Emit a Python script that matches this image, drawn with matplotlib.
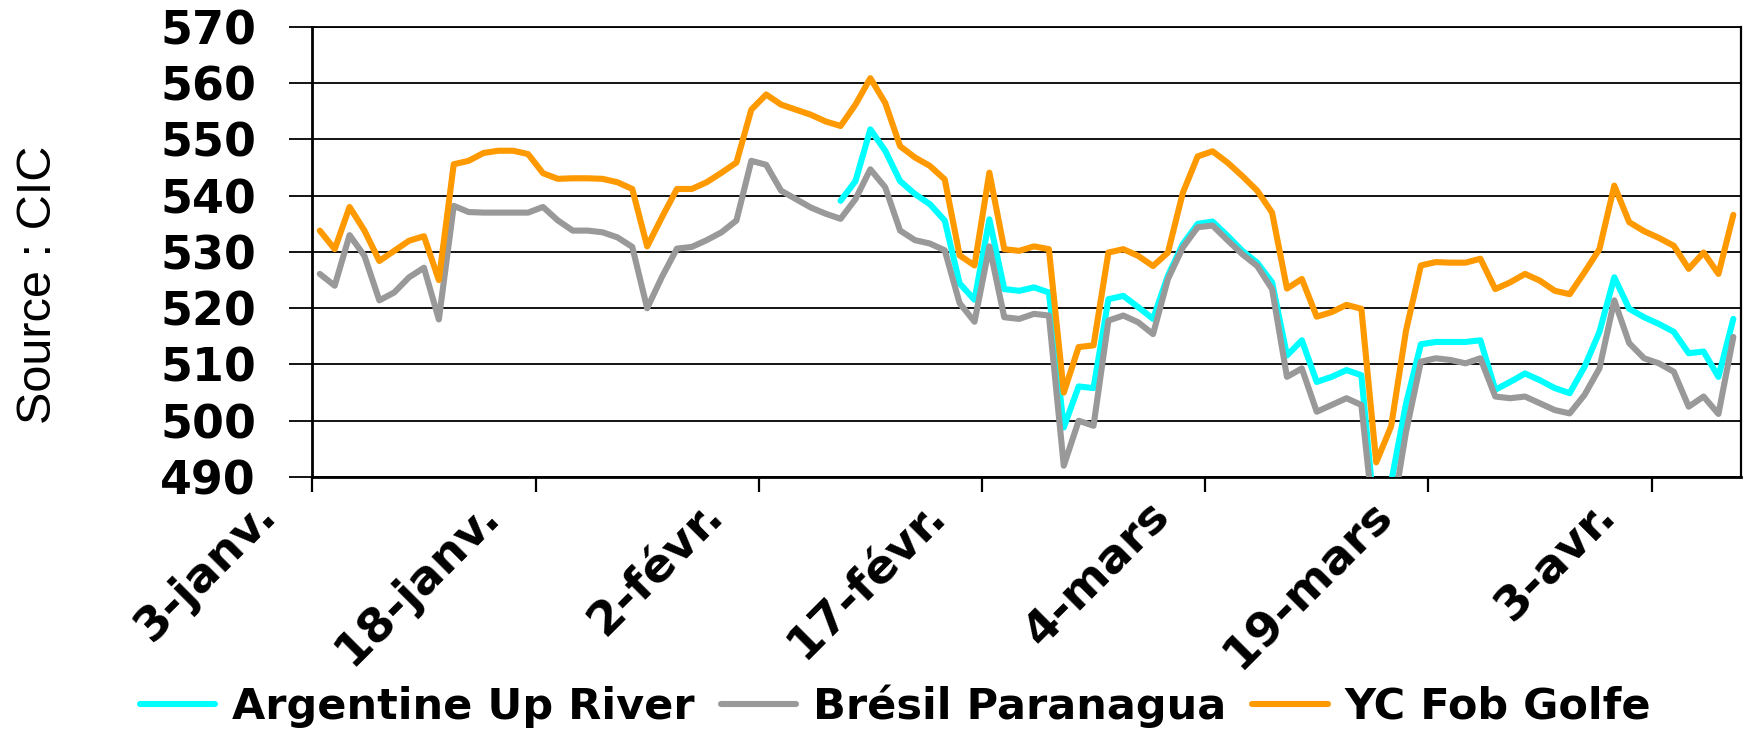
import numpy as np
import pandas as pd
import matplotlib
matplotlib.use("Agg")
import matplotlib.pyplot as plt
import matplotlib.transforms as mtransforms

# ─── 0. DONNÉES ──────────────────────────────────────────────────────────────

# Un point par jour, du 3 janvier au 8 avril
DATES = pd.date_range("2005-01-03", "2005-04-08", freq="D")

# YC Fob Golfe
YC_GOLFE = [
    533.8, 530.5, 538.0, 533.8, 528.4, 530.2, 532.0, 532.8, 525.0, 545.6,
    546.2, 547.6, 548.0, 548.0, 547.4, 544.0, 543.0, 543.1, 543.1, 543.0,
    542.4, 541.2, 531.0, 536.2, 541.2, 541.2, 542.4, 544.1, 545.9, 555.3,
    558.0, 556.2, 555.3, 554.4, 553.2, 552.4, 556.2, 560.9, 556.5, 548.8,
    546.8, 545.3, 542.9, 529.4, 527.6, 544.1, 530.5, 530.2, 531.0, 530.5,
    505.0, 513.1, 513.4, 529.9, 530.5, 529.3, 527.5, 529.9, 540.5, 547.0,
    547.9, 545.9, 543.5, 540.9, 537.0, 523.5, 525.2, 518.5, 519.3, 520.6,
    519.9, 492.6, 499.0, 516.0, 527.6, 528.2, 528.1, 528.1, 528.8, 523.4,
    524.6, 526.1, 524.9, 523.1, 522.5, 526.4, 530.5, 541.8, 535.3, 533.7,
    532.5, 531.1, 527.0, 529.9, 526.1, 536.6,
]

# Brésil Paranagua
BRESIL = [
    526.1, 524.0, 533.0, 529.3, 521.4, 522.8, 525.5, 527.2, 518.0, 538.2,
    537.1, 537.0, 537.0, 537.0, 537.0, 538.0, 535.6, 533.8, 533.8, 533.5,
    532.6, 530.9, 520.0, 525.6, 530.6, 530.9, 532.1, 533.5, 535.6, 546.2,
    545.5, 540.9, 539.4, 537.9, 536.8, 535.9, 539.4, 544.7, 541.5, 533.8,
    532.1, 531.5, 530.3, 520.9, 517.6, 531.0, 518.4, 518.1, 519.0, 518.7,
    492.0, 500.0, 499.1, 517.8, 518.7, 517.5, 515.4, 525.2, 530.8, 534.4,
    534.7, 532.1, 529.6, 527.5, 523.4, 507.8, 509.3, 501.6, 502.8, 504.0,
    502.8, 478.0, 482.0, 498.0, 510.5, 511.1, 510.8, 510.2, 511.1, 504.3,
    504.0, 504.3, 503.1, 501.9, 501.3, 504.6, 509.3, 521.4, 513.8, 511.1,
    510.2, 508.7, 502.5, 504.3, 501.2, 514.9,
]

# Argentine Up River (cotation absente avant le 7 février)
ARGENTINE = [np.nan] * 35 + [
    539.1, 542.6, 551.8, 548.0, 542.6,
    540.3, 538.5, 535.6, 524.4, 521.5, 535.8, 523.4, 523.1, 523.7, 522.8,
    498.8, 506.1, 505.8, 521.6, 522.2, 520.2, 518.1, 525.8, 531.4, 535.0,
    535.4, 532.9, 530.2, 528.1, 524.6, 511.6, 514.3, 506.9, 507.8, 509.0,
    508.1, 480.0, 489.0, 503.0, 513.6, 514.0, 514.0, 514.0, 514.3, 505.5,
    506.9, 508.4, 507.2, 505.8, 504.9, 509.6, 515.8, 525.5, 519.9, 518.4,
    517.2, 515.8, 512.0, 512.3, 507.8, 518.1,
]

TICK_DATES = ["2005-01-03", "2005-01-18", "2005-02-02", "2005-02-17",
              "2005-03-04", "2005-03-19", "2005-04-03"]
TICK_LABELS = ["3-janv.", "18-janv.", "2-févr.", "17-févr.",
               "4-mars", "19-mars", "3-avr."]
Y_TICKS = [490, 500, 510, 520, 530, 540, 550, 560, 570]

COULEURS = {
    "Argentine Up River": "#00ffff",
    "Brésil Paranagua": "#999999",
    "YC Fob Golfe": "#ff9900",
}

# ─── 1. FIGURE ───────────────────────────────────────────────────────────────

plt.rcParams["font.family"] = "DejaVu Sans"

fig = plt.figure(figsize=(17.49, 7.31), dpi=100)
ax = fig.add_axes([0.1786, 0.3475, 0.8167, 0.6156])

# Excel place chaque point au milieu de sa journée
x = DATES + pd.Timedelta(hours=12)

for nom, serie in [("Argentine Up River", ARGENTINE),
                   ("Brésil Paranagua", BRESIL),
                   ("YC Fob Golfe", YC_GOLFE)]:
    ax.plot(x, serie, color=COULEURS[nom], lw=4.4, label=nom,
            solid_joinstyle="round", solid_capstyle="round", zorder=3)

# ─── 2. AXES ─────────────────────────────────────────────────────────────────

ax.set_xlim(DATES[0], DATES[-1] + pd.Timedelta(days=1))
ax.set_ylim(490, 570)
ax.set_yticks(Y_TICKS)
ax.yaxis.grid(True, color="black", lw=1.3, zorder=1)

for cote, lw in [("left", 2.0), ("bottom", 2.0), ("right", 1.6), ("top", 1.3)]:
    ax.spines[cote].set_color("black")
    ax.spines[cote].set_linewidth(lw)

ax.tick_params(axis="y", length=16.6, width=1.3, pad=24, labelsize=33)
for lab in ax.get_yticklabels():
    lab.set_fontweight("bold")

ax.set_xticks(pd.to_datetime(TICK_DATES))
ax.set_xticklabels(TICK_LABELS, rotation=45, ha="right", va="top",
                   rotation_mode="anchor", fontsize=34, fontweight="bold")
ax.tick_params(axis="x", length=10.8, width=1.6, pad=0)
decalage = mtransforms.ScaledTranslation(-42 / 72, 0, fig.dpi_scale_trans)
for lab in ax.get_xticklabels():
    lab.set_transform(lab.get_transform() + decalage)

fig.text(39 / 1749, 1 - 285 / 731, "Source : CIC", rotation=90,
         ha="center", va="center", fontsize=35, family="Liberation Sans")

# Légende sous le graphique
fig.legend(loc="center", bbox_to_anchor=(0.512, 0.034), ncol=3,
           frameon=False, prop={"weight": "bold", "size": 31},
           handlelength=1.75, handletextpad=0.4, columnspacing=0.6)

plt.savefig("out.png", dpi=100)
plt.close()
